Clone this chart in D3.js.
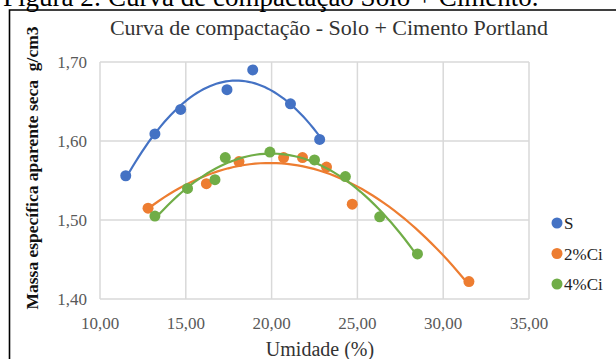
<!DOCTYPE html>
<html>
<head>
<meta charset="utf-8">
<script src="https://cdn.jsdelivr.net/npm/d3@7"></script>
<style>
  body { margin: 0; background: #fff; }
  svg { display: block; }
  text { font-family: "Liberation Serif", "Times New Roman", serif; }
</style>
</head>
<body>
<div id="chart"></div>
<script>
// data
var seriesNames = ["S", "2%Ci", "4%Ci"];
var colors = ["#4472C4", "#ED7D31", "#70AD47"];

var sX = [11.5, 13.2, 14.7, 17.4, 18.9, 21.1, 22.8];
var sY = [1.556, 1.609, 1.640, 1.665, 1.690, 1.647, 1.602];

var ci2X = [12.8, 16.2, 18.1, 20.7, 21.8, 23.2, 24.7, 31.5];
var ci2Y = [1.515, 1.546, 1.574, 1.579, 1.579, 1.567, 1.520, 1.422];

var ci4X = [13.2, 15.1, 16.7, 17.3, 19.9, 22.5, 24.3, 26.3, 28.5];
var ci4Y = [1.505, 1.540, 1.551, 1.579, 1.586, 1.576, 1.555, 1.504, 1.457];

var xTicks = [10, 15, 20, 25, 30, 35];
var yTicks = [1.40, 1.50, 1.60, 1.70];

var W = 616, H = 359;
var plot = {left: 100, right: 529, top: 62, bottom: 299};

var svg = d3.select("#chart").append("svg")
    .attr("width", W).attr("height", H);

// caption of the figure, cut off at the top like in the scan
svg.append("text")
    .attr("x", 3).attr("y", 6)
    .attr("font-size", 27)
    .attr("fill", "#000")
    .text("Figura 2: Curva de compactação Solo + Cimento.");

// outer frame of the chart
svg.append("path")
    .attr("d", "M9.5," + (H + 2) + "V10H" + (W + 2))
    .attr("fill", "none")
    .attr("stroke", "#000")
    .attr("stroke-width", 1.6);

var x = d3.scaleLinear().domain([10, 35]).range([plot.left, plot.right]);
var y = d3.scaleLinear().domain([1.40, 1.70]).range([plot.bottom, plot.top]);
var fmt = function(d, n) { return d3.format("." + n + "f")(d).replace(".", ","); };

// grid
var grid = svg.append("g");
grid.selectAll("line.v").data(xTicks).enter().append("line")
    .attr("x1", function(d) { return x(d); }).attr("x2", function(d) { return x(d); })
    .attr("y1", plot.top).attr("y2", plot.bottom)
    .attr("stroke", "#d9d9d9").attr("stroke-width", 1.5);
grid.selectAll("line.h").data(yTicks).enter().append("line")
    .attr("x1", plot.left).attr("x2", plot.right)
    .attr("y1", function(d) { return y(d); }).attr("y2", function(d) { return y(d); })
    .attr("stroke", "#d9d9d9").attr("stroke-width", 1.5);

// tick labels
svg.append("g").selectAll("text").data(xTicks).enter().append("text")
    .attr("x", function(d) { return x(d); })
    .attr("y", plot.bottom + 30)
    .attr("text-anchor", "middle")
    .attr("font-size", 17)
    .attr("fill", "#595959")
    .text(function(d) { return fmt(d, 2); });
svg.append("g").selectAll("text").data(yTicks).enter().append("text")
    .attr("x", plot.left - 13)
    .attr("y", function(d) { return y(d) + 5.5; })
    .attr("text-anchor", "end")
    .attr("font-size", 17)
    .attr("fill", "#595959")
    .text(function(d) { return fmt(d, 2); });

// titles
svg.append("text")
    .attr("x", 329).attr("y", 35)
    .attr("text-anchor", "middle")
    .attr("font-size", 22)
    .attr("fill", "#333")
    .text("Curva de compactação - Solo + Cimento Portland");
svg.append("text")
    .attr("x", 320).attr("y", 356)
    .attr("text-anchor", "middle")
    .attr("font-size", 20)
    .attr("fill", "#333")
    .text("Umidade (%)");
svg.append("text")
    .attr("transform", "translate(38,168) rotate(-90)")
    .attr("text-anchor", "middle")
    .attr("font-size", 17.5)
    .attr("font-weight", "bold")
    .attr("fill", "#111")
    .attr("xml:space", "preserve")
    .text("Massa específica aparente seca  g/cm3");

// least squares 2nd order polynomial (the trendline)
function polyFit(xs, ys) {
  var n = xs.length, s = [0, 0, 0, 0, 0], t = [0, 0, 0];
  for (var i = 0; i < n; i++) {
    var p = 1;
    for (var k = 0; k < 5; k++) { s[k] += p; if (k < 3) t[k] += p * ys[i]; p *= xs[i]; }
  }
  var A = [[s[0], s[1], s[2], t[0]], [s[1], s[2], s[3], t[1]], [s[2], s[3], s[4], t[2]]];
  for (var c = 0; c < 3; c++) {
    for (var r = c + 1; r < 3; r++) {
      var f = A[r][c] / A[c][c];
      for (var j = c; j < 4; j++) A[r][j] -= f * A[c][j];
    }
  }
  var b = [0, 0, 0];
  for (var r2 = 2; r2 >= 0; r2--) {
    var v = A[r2][3];
    for (var j2 = r2 + 1; j2 < 3; j2++) v -= A[r2][j2] * b[j2];
    b[r2] = v / A[r2][r2];
  }
  return function(v) { return b[0] + b[1] * v + b[2] * v * v; };
}

var series = [[sX, sY], [ci2X, ci2Y], [ci4X, ci4Y]];
var line = d3.line().x(function(d) { return x(d[0]); }).y(function(d) { return y(d[1]); });

series.forEach(function(s, i) {
  var fn = polyFit(s[0], s[1]);
  var lo = d3.min(s[0]), hi = d3.max(s[0]);
  var pts = d3.range(0, 61).map(function(k) { var v = lo + (hi - lo) * k / 60; return [v, fn(v)]; });
  var pairs = s[0].map(function(v, k) { return [v, s[1][k]]; });
  var g = svg.append("g");
  g.selectAll("circle").data(pairs).enter().append("circle")
      .attr("cx", function(d) { return x(d[0]); })
      .attr("cy", function(d) { return y(d[1]); })
      .attr("r", 5.5)
      .attr("fill", colors[i]);
  g.append("path").datum(pts)
      .attr("d", line)
      .attr("fill", "none")
      .attr("stroke", colors[i])
      .attr("stroke-width", 2.2);
});

// legend
var leg = svg.append("g").selectAll("g").data(seriesNames).enter().append("g")
    .attr("transform", function(d, i) { return "translate(557," + (223 + i * 30.5) + ")"; });
leg.append("circle").attr("r", 5.5).attr("fill", function(d, i) { return colors[i]; });
leg.append("text")
    .attr("x", 7).attr("y", 6)
    .attr("font-size", 17)
    .attr("fill", "#222")
    .text(function(d) { return d; });
</script>
</body>
</html>
